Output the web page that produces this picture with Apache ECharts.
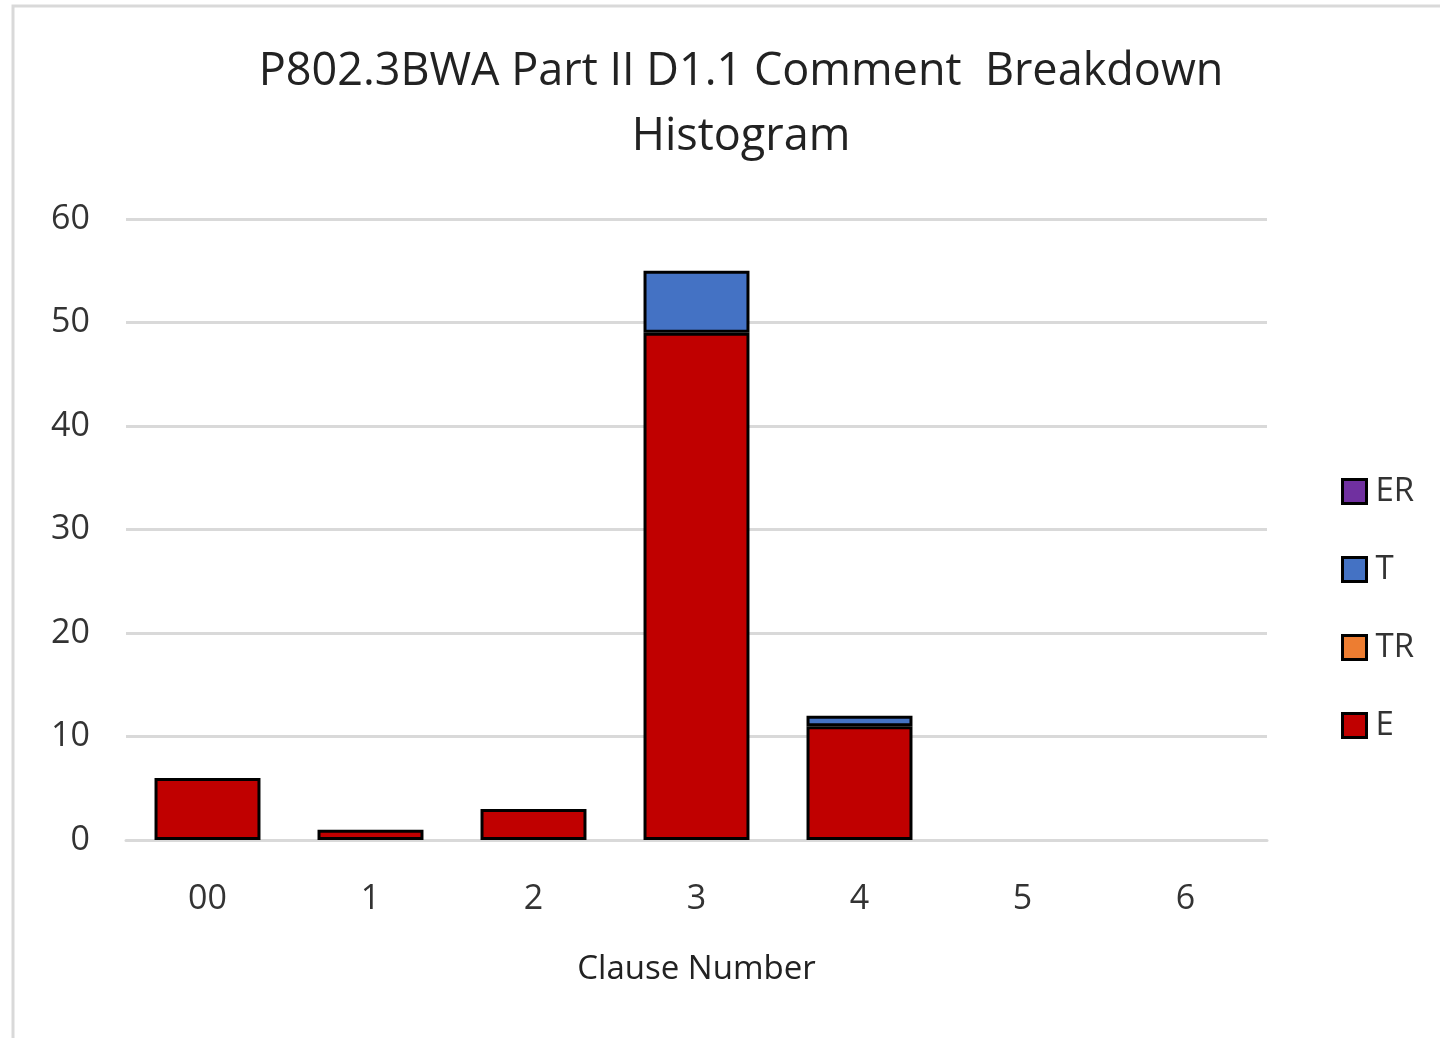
<!DOCTYPE html>
<html>
<head>
<meta charset="utf-8">
<script src="https://cdn.jsdelivr.net/npm/echarts@6/dist/echarts.min.js"></script>
<style>
  html, body { margin: 0; padding: 0; background: #fff; }
  #chart { width: 1440px; height: 1038px; }
</style>
</head>
<body>
<div id="chart"></div>
<script>
// clause categories along the x axis
var clauses = ['00', '1', '2', '3', '4', '5', '6'];
// comment counts per type (stacked bottom to top: E, TR, T, ER)
var eData = [6, 1, 3, 49, 11, 0, 0];
var trData = [0, 0, 0, 0, 0, 0, 0];
var tData = [0, 0, 0, 6, 1, 0, 0];
var erData = [0, 0, 0, 0, 0, 0, 0];
var legendOrder = ['ER', 'T', 'TR', 'E'];

var chartDom = document.getElementById('chart');
var myChart = echarts.init(chartDom);
var font = '"Open Sans", "Noto Sans", sans-serif';

function barSeries(name, data, color) {
  return {
    name: name,
    type: 'bar',
    stack: 'Total',
    barCategoryGap: '35%',
    // zero counts draw nothing
    data: data.map(function (v) { return v === 0 ? '-' : v; }),
    itemStyle: {
      color: color,
      borderColor: '#000',
      borderWidth: 3
    }
  };
}

var option = {
  animation: false,
  backgroundColor: '#fff',
  graphic: [
    {
      type: 'rect',
      shape: { x: 13, y: 6, width: 1500, height: 1100 },
      style: { fill: 'none', stroke: '#d9d9d9', lineWidth: 3 },
      silent: true
    }
  ],
  title: {
    text: 'P802.3BWA Part II D1.1 Comment  Breakdown\nHistogram',
    left: 736,
    textAlign: 'center',
    top: 35,
    textStyle: {
      fontFamily: font,
      fontSize: 45,
      fontWeight: 'normal',
      color: '#222',
      lineHeight: 65
    }
  },
  legend: {
    data: legendOrder,
    orient: 'vertical',
    left: 1336,
    top: 470,
    icon: 'rect',
    itemWidth: 24,
    itemHeight: 24,
    itemGap: 45,
    itemStyle: { borderColor: '#000', borderWidth: 3 },
    textStyle: { fontFamily: font, fontSize: 33, color: '#333', padding: [0, 0, 0, 4] }
  },
  grid: {
    left: 126,
    right: 173,
    top: 219,
    bottom: 198
  },
  xAxis: {
    type: 'category',
    data: clauses,
    name: 'Clause Number',
    nameLocation: 'middle',
    nameGap: 113,
    nameTextStyle: { fontFamily: font, fontSize: 33, color: '#222' },
    axisLine: { lineStyle: { color: '#d9d9d9', width: 3 } },
    axisTick: { show: false },
    axisLabel: { fontFamily: font, fontSize: 34, color: '#333', margin: 42 }
  },
  yAxis: {
    type: 'value',
    min: 0,
    max: 60,
    interval: 10,
    axisLine: { show: false },
    axisTick: { show: false },
    axisLabel: { fontFamily: font, fontSize: 34, color: '#333', margin: 36 },
    splitLine: { lineStyle: { color: '#d9d9d9', width: 3 } }
  },
  series: [
    barSeries('E', eData, '#C00000'),
    barSeries('TR', trData, '#ED7D31'),
    barSeries('T', tData, '#4472C4'),
    barSeries('ER', erData, '#7030A0')
  ]
};

option && myChart.setOption(option);
</script>
</body>
</html>
